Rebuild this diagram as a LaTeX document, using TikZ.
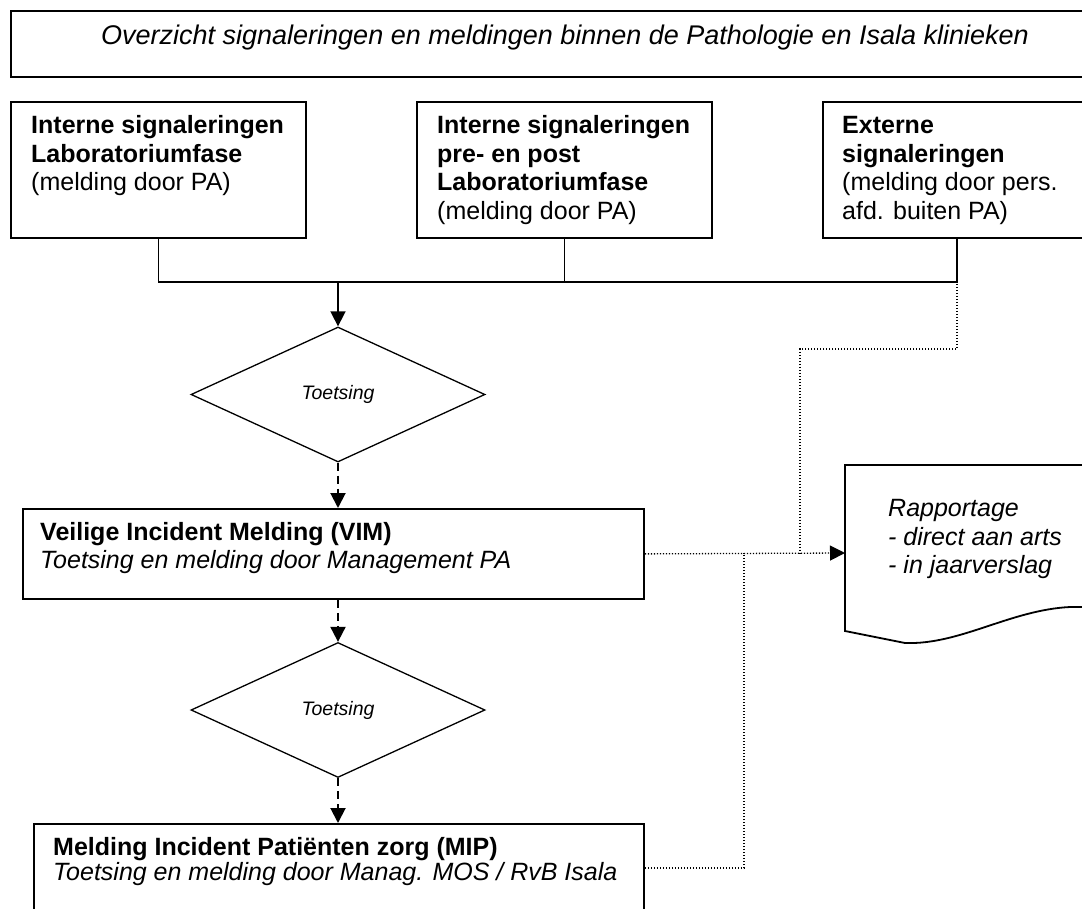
\documentclass[tikz,border=0pt]{standalone}
\usepackage{fontspec}
\setmainfont{Liberation Sans}
\usetikzlibrary{arrows.meta,shapes.geometric}
\begin{document}
\begin{tikzpicture}[x=1pt,y=-1pt,
  box/.style={draw, line width=1.8pt, anchor=north west, inner sep=0pt},
  txt/.style={anchor=base west, inner sep=0pt, align=left, font=\fontsize{25}{28.5}\selectfont},
  dia/.style={draw, diamond, line width=1.3pt, minimum width=294pt, minimum height=135pt, aspect=2.18, inner sep=0pt, font=\fontsize{19.5}{22}\selectfont\itshape},
  conn/.style={line width=1.6pt},
  tip/.style={-{Triangle[length=15pt,width=15pt]}},
  dsh/.style={line width=2pt, dash pattern=on 8pt off 5pt},
  dots/.style={line width=1.3pt, dash pattern=on 1.3pt off 1.7pt}]
\useasboundingbox (0,0) rectangle (1082,909);
% title
\node[box, minimum width=1110pt, minimum height=66pt] (title) at (10,10) {};
\node[anchor=base, inner sep=0pt, font=\fontsize{27}{30}\selectfont\itshape] (titletxt) at (565,45) {Overzicht signaleringen en meldingen binnen de Pathologie en Isala klinieken};
% top boxes
\node[box, minimum width=295pt, minimum height=136pt] (b1) at (10,101) {};
\node[txt] (t1) at (31,191) {\textbf{Interne signaleringen}\\\textbf{Laboratoriumfase}\\(melding door PA)};
\node[box, minimum width=295pt, minimum height=136pt] (b2) at (416,101) {};
\node[txt] (t2) at (437,219.5) {\textbf{Interne signaleringen}\\\textbf{pre- en post}\\\textbf{Laboratoriumfase}\\(melding door PA)};
\node[box, minimum width=268pt, minimum height=136pt] (b3) at (822,101) {};
\node[txt] (t3) at (842,219.5) {\textbf{Externe}\\\textbf{signaleringen}\\(melding door pers.\\afd. buiten PA)};
% diamonds
\node[dia] (d1) at (338,394.5) {Toetsing};
\node[dia] (d2) at (338,710) {Toetsing};
% VIM / MIP
\node[box, minimum width=621pt, minimum height=90pt] (vim) at (22,508) {};
\node[txt, font=\fontsize{25}{28}\selectfont] (tv) at (40,568) {\textbf{Veilige Incident Melding (VIM)}\\\textit{Toetsing en melding door Management PA}};
\node[box, minimum width=610pt, minimum height=88pt] (mip) at (33,823) {};
\node[txt, font=\fontsize{25}{25}\selectfont] (tm) at (53,880) {\textbf{Melding Incident Patiënten zorg (MIP)}\\\textit{Toetsing en melding door Manag. MOS / RvB Isala}};
% document
\draw[line width=1.8pt] (1090,465) -- (845,465) -- (845,631) -- (905,643)
  .. controls (960,645) and (1010,610) .. (1070,607) -- (1090,607);
\coordinate (doc) at (845,553);
\node[txt, font=\fontsize{25}{28.5}\selectfont\itshape] (td) at (888,573.5) {Rapportage\\- direct aan arts\\- in jaarverslag};
% connectors
\coordinate (jy) at (0,282);
\draw[conn] (b1.south) -- (b1.south |- jy) -- (b3.south |- jy) -- (b3.south);
\draw[conn] (b2.south) -- (b2.south |- jy);
\draw[conn, tip] (d1.north |- jy) -- (d1.north);
\draw[dsh, tip] (d1.south) -- (d1.south |- vim.north);
\draw[dsh, tip] (d1.south |- vim.south) -- (d2.north);
\draw[dsh, tip] (d2.south) -- (d2.south |- mip.north);
\coordinate (k1) at (800,349);
\coordinate (k2) at (744,0);
\draw[dots] (b3.south) |- (k1) -- (k1 |- doc);
\draw[dots, tip] (vim.east) -- (doc);
\draw[dots] (mip.east) -| (k2 |- doc);
\end{tikzpicture}
\end{document}
